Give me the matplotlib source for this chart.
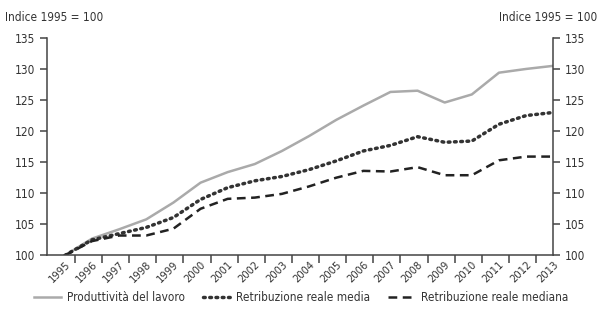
import numpy as np
import matplotlib.pyplot as plt

# data (index 1995 = 100)
years = list(range(1995, 2014))
produttivita = [100, 102.7, 104.2, 105.8, 108.5, 111.7, 113.4, 114.7, 116.8, 119.2,
                121.8, 124.1, 126.3, 126.5, 124.6, 125.9, 129.4, 130.0, 130.5]
retrib_media = [100, 102.5, 103.5, 104.5, 106.1, 109.0, 110.9, 112.0, 112.7, 113.8,
                115.2, 116.8, 117.7, 119.1, 118.2, 118.4, 121.1, 122.5, 123.0]
retrib_mediana = [100, 102.3, 103.2, 103.2, 104.3, 107.5, 109.1, 109.3, 109.9, 111.1,
                  112.5, 113.6, 113.5, 114.2, 112.9, 112.9, 115.3, 115.9, 115.9]
yticks = [100, 105, 110, 115, 120, 125, 130, 135]

plt.rcParams['font.family'] = ['DejaVu Sans']
plt.rcParams['font.stretch'] = 'condensed'
plt.rcParams['font.size'] = 8.5
plt.rcParams['text.color'] = '#333333'

fig = plt.figure(figsize=(6.02, 3.13), dpi=100)
ax = fig.add_axes([0.078, 0.184, 0.841, 0.695])

ax.plot(years, produttivita, color='#aaaaaa', lw=1.8, label='Produttività del lavoro')
ax.plot(years, retrib_media, color='#333333', lw=2.5, linestyle=(0, (0.5, 1.3)),
        dash_capstyle='round', label='Retribuzione reale media')
ax.plot(years, retrib_mediana, color='#222222', lw=1.8, linestyle=(0, (3.5, 2.2)),
        label='Retribuzione reale mediana')

ax.set_xlim(1994.34, 2013)
ax.set_ylim(100, 135)

ax.spines['top'].set_visible(False)
for s in ['left', 'right', 'bottom']:
    ax.spines[s].set_color('#444444')
    ax.spines[s].set_linewidth(1.1)

ax.set_yticks(yticks)
ax.tick_params(axis='y', right=True, labelright=True, direction='out', length=5,
               width=1.1, color='#444444', labelcolor='#333333', labelsize=8.5)

ax.set_xticks(years)
ax.set_xticklabels([str(y) for y in years], rotation=45, ha='right', va='top',
                   rotation_mode='anchor', fontsize=8, color='#333333')
ax.tick_params(axis='x', which='major', length=0, pad=3)
ax.set_xticks(np.array(years[:-1]) + 0.37, minor=True)
ax.tick_params(axis='x', which='minor', length=6, width=1.1, color='#444444')

fig.text(0.008, 0.945, 'Indice 1995 = 100', fontsize=8.5, ha='left', va='center')
fig.text(0.992, 0.945, 'Indice 1995 = 100', fontsize=8.5, ha='right', va='center')

fig.legend(loc='center', bbox_to_anchor=(0.5, 0.05), ncol=3, frameon=False,
           fontsize=8.5, handlelength=2.3, columnspacing=1.5, handletextpad=0.5)

fig.savefig('out.png', dpi=100)
